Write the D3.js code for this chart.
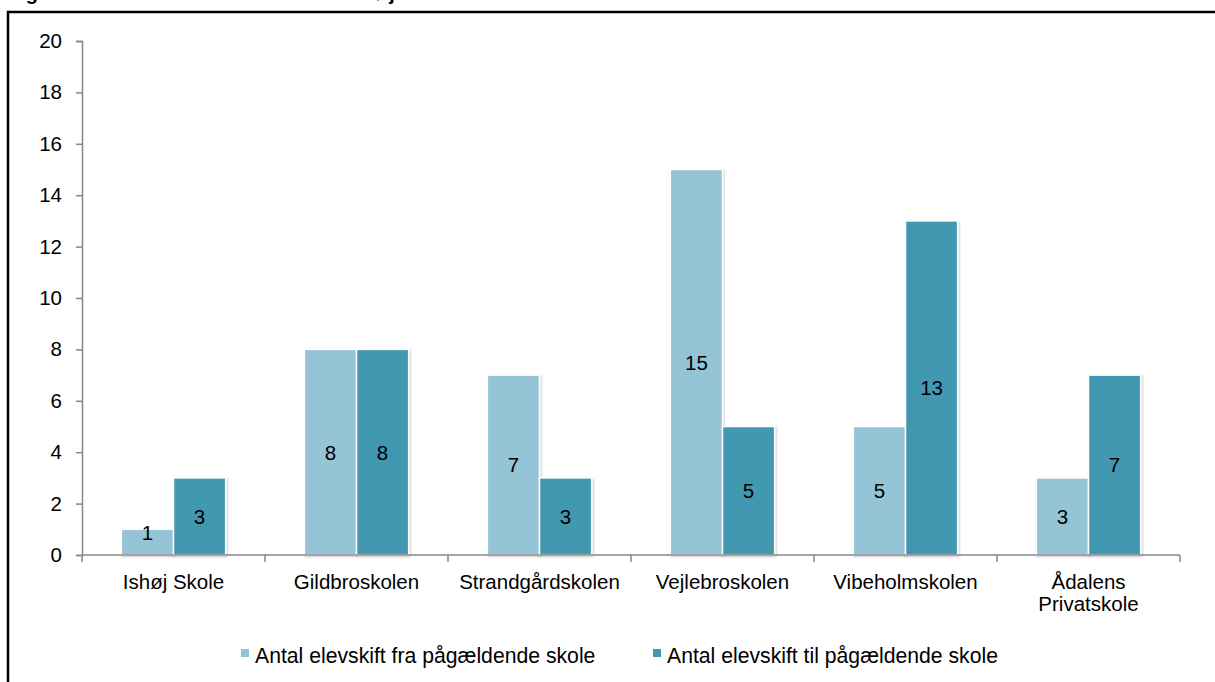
<!DOCTYPE html>
<html>
<head>
<meta charset="utf-8">
<script src="https://cdn.jsdelivr.net/npm/d3@7"></script>
<style>
  body { margin: 0; background: #fff; }
  text { font-family: Arial, "Liberation Sans", sans-serif; }
</style>
</head>
<body>
<script>
// DATA
var schools = ["Ishøj Skole", "Gildbroskolen", "Strandgårdskolen", "Vejlebroskolen", "Vibeholmskolen", "Ådalens Privatskole"];
var fromSchool = [1, 8, 7, 15, 5, 3];
var toSchool = [3, 8, 3, 5, 13, 7];
var seriesNames = ["Antal elevskift fra pågældende skole", "Antal elevskift til pågældende skole"];
var yTicks = [0, 2, 4, 6, 8, 10, 12, 14, 16, 18, 20];
var titleText = "Figur 5: Elevskift mellem skolerne i Ishøj Kommune";

var colors = ["#94c4d5", "#4398b0"];
var fs = 20.5;

var svg = d3.select("body")
    .append("svg")
    .attr("width", 1215)
    .attr("height", 682);

// soft shadow like the original office chart
var defs = svg.append("defs");
var f = defs.append("filter").attr("id", "shadow")
    .attr("x", "-20%").attr("y", "-20%").attr("width", "140%").attr("height", "140%");
f.append("feDropShadow")
    .attr("dx", 1).attr("dy", 1).attr("stdDeviation", 1.2)
    .attr("flood-color", "#000").attr("flood-opacity", 0.25);

// title (cut off above the frame, as in the source page)
svg.append("text")
    .attr("x", 8).attr("y", 0)
    .attr("font-size", 20).attr("font-weight", "bold")
    .text(titleText);

// frame
svg.append("rect")
    .attr("x", 8).attr("y", 12)
    .attr("width", 1300).attr("height", 800)
    .attr("fill", "none").attr("stroke", "#000").attr("stroke-width", 2.5);

const margin = {top: 41, left: 82};
const width = 1180 - 82;
const height = 555 - 41;

const x = d3.scaleBand()
    .domain(schools)
    .range([0, width])
    .paddingInner(0.43)
    .paddingOuter(0.215);

const xCat = d3.scaleBand().domain(schools).range([0, width]);

const y = d3.scaleLinear()
    .domain([0, 20])
    .range([height, 0]);

const g = svg.append("g")
    .attr("transform", "translate(" + margin.left + "," + margin.top + ")");

// gridlines
g.selectAll(".grid").data(yTicks.filter(d => d > 0))
    .enter().append("line")
    .attr("x1", 0).attr("x2", width)
    .attr("y1", d => y(d)).attr("y2", d => y(d))
    .attr("stroke", "#878787").attr("stroke-width", 1.5)
    .attr("filter", "url(#shadow)");

// y axis
const yAxis = g.append("g")
    .call(d3.axisLeft(y).tickValues(yTicks).tickSize(6).tickPadding(14));
yAxis.select(".domain").attr("stroke", "#878787").attr("stroke-width", 1.5);
yAxis.selectAll(".tick line").attr("stroke", "#878787").attr("stroke-width", 1.5);
yAxis.selectAll("text").attr("font-size", fs).attr("fill", "#000");

// bars
const sub = d3.scaleBand().domain([0, 1]).range([0, x.bandwidth()]);
const seriesVals = [fromSchool, toSchool];

schools.forEach(function(s, i) {
    seriesVals.forEach(function(vals, k) {
        const bx = x(s) + sub(k);
        g.append("rect")
            .attr("x", bx)
            .attr("y", y(vals[i]))
            .attr("width", sub.bandwidth())
            .attr("height", y(0) - y(vals[i]))
            .attr("fill", colors[k])
            .attr("stroke", "#fff")
            .attr("stroke-width", 1.5)
            .attr("filter", "url(#shadow)");
        g.append("text")
            .attr("x", bx + sub.bandwidth() / 2)
            .attr("y", Math.min((y(vals[i]) + y(0)) / 2, y(0) - 22))
            .attr("dy", "0.36em")
            .attr("text-anchor", "middle")
            .attr("font-size", fs)
            .text(vals[i]);
    });
});

// x axis
const xAxis = g.append("g")
    .attr("transform", "translate(0," + height + ")");
xAxis.append("line")
    .attr("x1", 0).attr("x2", width)
    .attr("stroke", "#878787").attr("stroke-width", 1.5);
xAxis.selectAll(".xt").data(d3.range(schools.length + 1))
    .enter().append("line")
    .attr("x1", d => d * xCat.step()).attr("x2", d => d * xCat.step())
    .attr("y1", 0).attr("y2", 7)
    .attr("stroke", "#878787").attr("stroke-width", 1.5);

const labels = [["Ishøj Skole"], ["Gildbroskolen"], ["Strandgårdskolen"], ["Vejlebroskolen"], ["Vibeholmskolen"], ["Ådalens", "Privatskole"]];
schools.forEach(function(s, i) {
    const t = xAxis.append("text")
        .attr("x", xCat(s) + xCat.bandwidth() / 2)
        .attr("y", 34)
        .attr("text-anchor", "middle")
        .attr("font-size", fs);
    labels[i].forEach(function(line, j) {
        t.append("tspan")
            .attr("x", xCat(s) + xCat.bandwidth() / 2)
            .attr("dy", j === 0 ? 0 : 22)
            .text(line);
    });
});

// legend
const legendX = [241, 653];
seriesNames.forEach(function(n, k) {
    svg.append("rect")
        .attr("x", legendX[k]).attr("y", 649)
        .attr("width", 8).attr("height", 8)
        .attr("fill", colors[k]);
    svg.append("text")
        .attr("x", legendX[k] + 14).attr("y", 655)
        .attr("dy", "0.36em")
        .attr("font-size", 21.2)
        .text(n);
});
</script>
</body>
</html>
